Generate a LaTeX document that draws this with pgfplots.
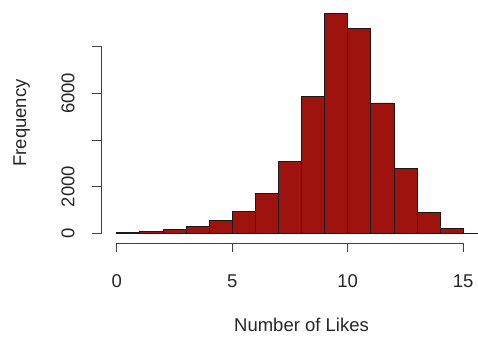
\documentclass[border=0pt]{standalone}
\usepackage{pgfplots}
\pgfplotsset{compat=1.18}
\usepackage{fontspec}
\setmainfont{Liberation Sans}
\definecolor{barred}{RGB}{158,19,14}
\begin{document}
\begin{tikzpicture}[x=1pt,y=1pt]
\useasboundingbox (0,0) rectangle (478,337);
\begin{axis}[
  at={(101.7pt,103.7pt)}, anchor=south west,
  scale only axis, width=376.3pt, height=228.6pt,
  xmin=-0.65, xmax=15.64, ymin=0, ymax=9800,
  clip=false,
  axis x line*=bottom, axis y line*=left,
  axis x line shift=9.6pt,
  axis line style={draw=none},
  xtick={0,5,10,15}, ytick={0,2000,4000,6000,8000},
  yticklabels={0,2000,,6000,},
  tick align=outside, major tick length=9.5pt,
  every tick/.style={line width=0.8pt, color=black!75},
  /pgf/number format/assume math mode=true,
  scaled y ticks=false,
  ticklabel style={font=\fontsize{18.5}{22}\selectfont, color=black!85},
  xticklabel style={yshift=-19pt},
  yticklabel style={xshift=-14pt, rotate=90, anchor=south},
  xlabel={Number of Likes}, ylabel={Frequency},
  label style={font=\fontsize{18.5}{22}\selectfont, color=black!85},
  xlabel style={at={(axis description cs:0.531,-0.401)}, anchor=center},
  ylabel style={at={(axis description cs:-0.2126,0.4825)}, anchor=center, rotate=0},
]
\addplot[ybar interval, fill=barred, draw=black!90, line width=0.7pt] coordinates {
 (0,20) (1,70) (2,170) (3,300) (4,540) (5,945) (6,1717) (7,3073)
 (8,5863) (9,9440) (10,8781) (11,5592) (12,2790) (13,885) (14,215) (15,10) (16,10)
};
\draw[line width=0.8pt, color=black!75] ([yshift=-9.6pt]axis cs:0,0) -- ([yshift=-9.6pt]axis cs:15,0);
\draw[line width=0.8pt, color=black!75] (axis cs:-0.65,0) -- (axis cs:-0.65,8000);
\end{axis}
\end{tikzpicture}
\end{document}
